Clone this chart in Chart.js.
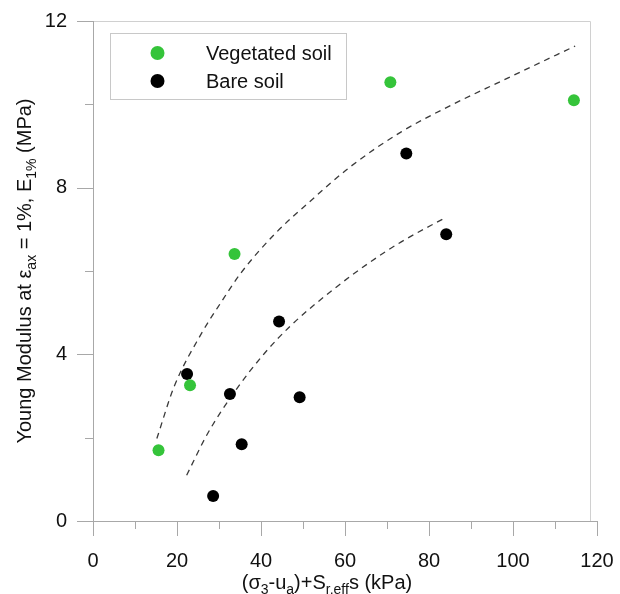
<!DOCTYPE html>
<html>
<head>
<meta charset="utf-8">
<script src="https://cdn.jsdelivr.net/npm/chart.js@4.4.1/dist/chart.umd.min.js"></script>
<style>
  html, body { margin: 0; padding: 0; background: #fff; }
  #wrap { width: 620px; height: 594px; }
</style>
</head>
<body>
<div id="wrap"><canvas id="chart"></canvas></div>
<script>
// ===== DATA =====
const VEG_X  = [15.6, 23.1, 33.7, 70.8, 114.5];
const VEG_Y  = [1.70, 3.26, 6.41, 10.53, 10.10];
const BARE_X = [22.4, 28.6, 32.6, 35.4, 44.3, 49.2, 74.6, 84.1];
const BARE_Y = [3.53, 0.60, 3.05, 1.84, 4.79, 2.97, 8.82, 6.88];

// trend curves
const VEG_FIT_X  = [15.2, 19.3, 25.7, 30.5, 35.2, 43.2, 52.0, 61.5, 73.4, 85.3, 97.3, 114.8];
const VEG_FIT_Y  = [1.98, 3.22, 4.48, 5.25, 5.95, 6.88, 7.70, 8.52, 9.34, 9.98, 10.56, 11.40];
const BARE_FIT_X = [22.3, 27.3, 33.7, 40.8, 47.2, 57.5, 65.5, 73.4, 83.9];
const BARE_FIT_Y = [1.10, 2.10, 3.10, 4.02, 4.70, 5.58, 6.18, 6.70, 7.28];

const X_LABELS = [0, 20, 40, 60, 80, 100, 120];
const Y_LABELS = [0, 4, 8, 12];

const LEGEND = ['Vegetated soil', 'Bare soil'];
const GREEN = '#35c43a';
const FONT = '"Liberation Sans", Arial, sans-serif';

const pts = (xs, ys) => xs.map((x, i) => ({ x, y: ys[i] }));

// draws text with subscript runs; parts = [[text, isSub], ...]
function richText(ctx, parts, cx, cy) {
  const main = `20px ${FONT}`, sub = `14px ${FONT}`;
  let w = 0;
  parts.forEach(([t, s]) => { ctx.font = s ? sub : main; w += ctx.measureText(t).width; });
  let x = cx - w / 2;
  ctx.textAlign = 'left';
  ctx.textBaseline = 'alphabetic';
  parts.forEach(([t, s]) => {
    ctx.font = s ? sub : main;
    ctx.fillText(t, x, cy + (s ? 5 : 0));
    x += ctx.measureText(t).width;
  });
}

// keep tick-label overhang from shrinking the plot area
const noOverhang = s => { s.paddingTop = s.paddingBottom = s.paddingLeft = s.paddingRight = 0; };

const decor = {
  id: 'decor',
  afterDraw(chart) {
    const { ctx, chartArea: a, scales: { x, y } } = chart;
    ctx.save();
    // frame
    ctx.strokeStyle = '#d0d0d0';
    ctx.lineWidth = 1;
    ctx.beginPath();
    ctx.moveTo(a.left, a.top + 0.5);
    ctx.lineTo(a.right - 6.5, a.top + 0.5);
    ctx.lineTo(a.right - 6.5, a.bottom);
    ctx.stroke();
    // axes and ticks
    ctx.strokeStyle = '#a8a8a8';
    ctx.beginPath();
    ctx.moveTo(a.left, a.bottom + 0.5);
    ctx.lineTo(a.right, a.bottom + 0.5);
    ctx.moveTo(a.left + 0.5, a.top);
    ctx.lineTo(a.left + 0.5, a.bottom);
    x.ticks.forEach(t => {
      const px = Math.round(x.getPixelForValue(t.value)) + 0.5;
      const len = X_LABELS.includes(t.value) ? 15 : 8;
      ctx.moveTo(px, a.bottom);
      ctx.lineTo(px, a.bottom + len);
    });
    y.ticks.forEach(t => {
      const py = Math.round(y.getPixelForValue(t.value)) + 0.5;
      const len = Y_LABELS.includes(t.value) ? 16 : 8;
      ctx.moveTo(a.left, py);
      ctx.lineTo(a.left - len, py);
    });
    ctx.stroke();

    // legend
    ctx.strokeStyle = '#c8c8c8';
    ctx.strokeRect(110.5, 33.5, 236, 66);
    ctx.font = `20px ${FONT}`;
    ctx.textBaseline = 'middle';
    ctx.textAlign = 'left';
    LEGEND.forEach((lab, i) => {
      const ds = chart.data.datasets[i];
      const cy = 53 + i * 28;
      ctx.fillStyle = ds.backgroundColor;
      ctx.beginPath();
      ctx.arc(157.5, cy, 7, 0, Math.PI * 2);
      ctx.fill();
      ctx.fillStyle = '#111';
      ctx.fillText(lab, 206, cy + 1);
    });

    // axis titles
    ctx.fillStyle = '#111';
    richText(ctx, [['(σ', 0], ['3', 1], ['-u', 0], ['a', 1], [')+S', 0], ['r,eff', 1], ['s (kPa)', 0]],
      (a.left + a.right) / 2 - 18, 589);
    ctx.translate(31, (a.top + a.bottom) / 2);
    ctx.rotate(-Math.PI / 2);
    richText(ctx, [['Young Modulus at ε', 0], ['ax', 1], [' = 1%, E', 0], ['1%', 1], [' (MPa)', 0]], 0, 0);
    ctx.restore();
  }
};

new Chart(document.getElementById('chart'), {
  type: 'scatter',
  data: {
    datasets: [
      { label: LEGEND[0], data: pts(VEG_X, VEG_Y), backgroundColor: GREEN, borderWidth: 0, pointRadius: 6 },
      { label: LEGEND[1], data: pts(BARE_X, BARE_Y), backgroundColor: '#000', borderWidth: 0, pointRadius: 6 },
      { data: pts(VEG_FIT_X, VEG_FIT_Y), showLine: true, pointRadius: 0, borderColor: '#3a3a3a',
        borderWidth: 1.3, borderDash: [6, 5], cubicInterpolationMode: 'monotone' },
      { data: pts(BARE_FIT_X, BARE_FIT_Y), showLine: true, pointRadius: 0, borderColor: '#3a3a3a',
        borderWidth: 1.3, borderDash: [6, 5], cubicInterpolationMode: 'monotone' },
    ],
  },
  options: {
    responsive: true, maintainAspectRatio: false,
    devicePixelRatio: 1,
    animation: false,
    layout: { padding: { top: 21, right: 23, left: 0, bottom: 0 } },
    plugins: { legend: { display: false }, tooltip: { enabled: false } },
    scales: {
      x: {
        min: 0, max: 120,
        grid: { display: false, drawTicks: false }, border: { display: false },
        ticks: {
          stepSize: 10, padding: 28, maxRotation: 0, autoSkip: false,
          color: '#111', font: { family: FONT, size: 20 },
          callback: v => X_LABELS.includes(v) ? v : '',
        },
        afterFit: s => { s.height = 73; noOverhang(s); },
      },
      y: {
        min: 0, max: 12,
        grid: { display: false, drawTicks: false }, border: { display: false },
        ticks: {
          stepSize: 2, padding: 26, autoSkip: false,
          color: '#111', font: { family: FONT, size: 20 },
          callback: v => Y_LABELS.includes(v) ? v : '',
        },
        afterFit: s => { s.width = 93; noOverhang(s); },
      },
    },
  },
  plugins: [decor],
});
</script>
</body>
</html>
